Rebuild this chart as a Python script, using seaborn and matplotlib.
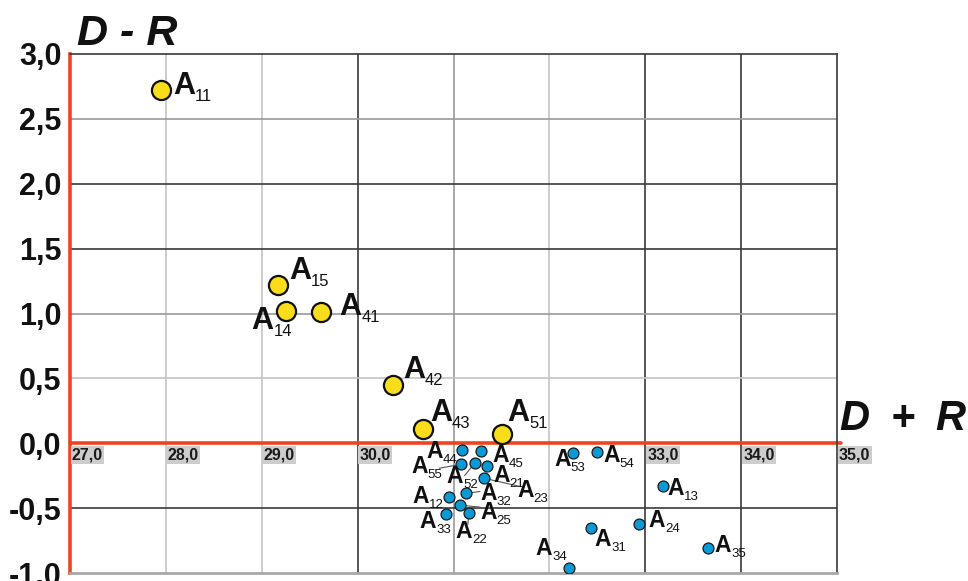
import matplotlib
matplotlib.use("Agg")
import matplotlib.pyplot as plt
import pandas as pd
import seaborn as sns
from matplotlib.ticker import FixedLocator, FuncFormatter

# Alternatives A_ij placed on the (D + R, D - R) plane
names = ["11", "15", "14", "41", "42", "43", "51",
         "44", "45", "55", "52", "21", "23", "32", "12", "25", "22", "33",
         "53", "54", "13", "31", "24", "35", "34"]
d_plus_r = [27.95, 29.17, 29.25, 29.62, 30.37, 30.68, 31.51,
            31.09, 31.29, 31.08, 31.22, 31.35, 31.32, 31.13, 30.95, 31.07, 31.16, 30.92,
            32.25, 32.50, 33.18, 32.43, 32.94, 33.65, 32.20]
d_minus_r = [2.72, 1.22, 1.02, 1.01, 0.45, 0.11, 0.075,
             -0.054, -0.059, -0.162, -0.156, -0.175, -0.27, -0.387, -0.418, -0.477, -0.54, -0.546,
             -0.072, -0.067, -0.33, -0.65, -0.62, -0.805, -0.96]
group = ["cause"] * 7 + ["effect"] * 18

x_ticks = [27.0, 28.0, 29.0, 30.0, 31.0, 32.0, 33.0, 34.0, 35.0]
x_tick_labels = ["27,0", "28,0", "29,0", "30,0", "", "", "33,0", "34,0", "35,0"]
y_ticks = [-1.0, -0.5, 0.0, 0.5, 1.0, 1.5, 2.0, 2.5, 3.0]

df = pd.DataFrame({"name": names, "dpr": d_plus_r, "dmr": d_minus_r, "group": group})

# ---- styling -------------------------------------------------------------
sns.set_theme(style="white")
plt.rcParams["font.family"] = ["Liberation Sans", "DejaVu Sans"]

YELLOW = "#f9dc1a"
BLUE = "#0a9ad6"
RED = "#ee4420"
DARK = "#3a3a3a"
MID = "#9a9a9a"
LIGHT = "#c4c4c4"

# label offsets (pixels) from each marker to the left/baseline of its "A"
label_offset = {
    "11": (12, -4), "15": (11, 6), "14": (-34, -18), "41": (18, -3),
    "42": (10, 7), "43": (7, 8), "51": (5, 13),
    "44": (-36, -8), "45": (11, -11), "55": (-50, -9), "52": (-28, -20),
    "21": (6, -16), "23": (33, -19), "32": (14, -7), "12": (-36, -6),
    "25": (20, -14), "22": (-13, -25), "33": (-26, -14),
    "53": (-19, -13), "54": (6, -10), "13": (5, -9), "31": (4, -18),
    "24": (9, -3), "35": (7, -4), "34": (-33, 13),
}
# thin leader lines from crowded markers to their labels (pixel offsets)
leader_end = {"55": (-22, -4), "52": (-10, -12), "23": (35, -8),
              "32": (14, 2), "25": (20, -2), "22": (-1, -11)}

# per-line grid colours
x_grid = {28.0: LIGHT, 29.0: LIGHT, 30.0: DARK, 31.0: MID, 32.0: LIGHT,
          33.0: DARK, 34.0: DARK}
y_grid = {2.5: MID, 2.0: DARK, 1.5: DARK, 1.0: MID, 0.5: LIGHT, -0.5: DARK}

fig = plt.figure(figsize=(9.68, 5.81), dpi=100)
fig.patch.set_facecolor("white")
ax = fig.add_axes([70 / 968, 8 / 581, (837 - 70) / 968, (573 - 54) / 581])

ax.set_xlim(27.0, 35.0)
ax.set_ylim(-1.0, 3.0)

for xv, c in x_grid.items():
    ax.axvline(xv, color=c, lw=1.2, zorder=1)
for yv, c in y_grid.items():
    ax.axhline(yv, color=c, lw=1.2, zorder=1)
ax.axhline(0.0, color=RED, lw=2.6, zorder=2, clip_on=False,
           xmin=0, xmax=1.005)

# leader lines under the markers
for n, (ex, ey) in leader_end.items():
    r = df[df.name == n].iloc[0]
    ax.annotate("", xy=(r.dpr, r.dmr), xytext=(ex, ey), textcoords="offset pixels",
                arrowprops=dict(arrowstyle="-", lw=0.8, color="#555555",
                                shrinkA=0, shrinkB=0), zorder=3)

cause = df[df.group == "cause"]
effect = df[df.group == "effect"]
sns.scatterplot(data=cause, x="dpr", y="dmr", s=190, color=YELLOW,
                edgecolor="#111111", linewidth=1.6, ax=ax, zorder=5, legend=False)
sns.scatterplot(data=effect, x="dpr", y="dmr", s=62, color=BLUE,
                edgecolor="#1a1a1a", linewidth=0.9, ax=ax, zorder=5, legend=False)

# point labels: big "A" followed by a small subscript index
for _, r in df.iterrows():
    big = r.group == "cause"
    fs_a, fs_s = (22, 12) if big else (16.5, 9.5)
    dx, dy = label_offset[r["name"]]
    t = ax.annotate("A", xy=(r.dpr, r.dmr), xytext=(dx, dy),
                    textcoords="offset pixels", ha="left", va="baseline",
                    fontsize=fs_a, fontweight="bold", color="#111111", zorder=6)
    ax.annotate(r["name"], xy=(1.0, 0.0), xycoords=t, xytext=(0.0, 0),
                textcoords="offset pixels", ha="left", va="baseline",
                fontsize=fs_s, color="#111111", zorder=6)

# axes frame
for side in ("top", "right"):
    ax.spines[side].set_color(DARK)
    ax.spines[side].set_linewidth(1.2)
ax.spines["left"].set_color(RED)
ax.spines["left"].set_linewidth(2.6)
ax.spines["bottom"].set_color("#a8a8a8")
ax.spines["bottom"].set_linewidth(2.0)

ax.set_xlabel("")
ax.set_ylabel("")
ax.xaxis.set_major_locator(FixedLocator(x_ticks))
ax.set_xticklabels([])
ax.tick_params(axis="x", length=0)
ax.yaxis.set_major_locator(FixedLocator(y_ticks))
ax.yaxis.set_major_formatter(FuncFormatter(lambda v, p: f"{v:.1f}".replace(".", ",")))
ax.tick_params(axis="y", length=0, pad=6)
for lab in ax.get_yticklabels():
    lab.set_fontsize(22)
    lab.set_fontweight("bold")
    lab.set_color("#111111")

# x values written just under the zero line, on grey chips
for xv, txt in zip(x_ticks, x_tick_labels):
    if not txt:
        continue
    ax.annotate(txt, xy=(xv, 0.0), xytext=(2, -4),
                textcoords="offset pixels", ha="left", va="top",
                fontsize=11.5, fontweight="bold", color="#1a1a1a", zorder=4,
                annotation_clip=False,
                bbox=dict(boxstyle="square,pad=0.08", fc="#cdcdcd", ec="none"))

# axis names
fig.text(77 / 968, 1 - 45 / 581, "D - R", fontsize=31, fontweight="bold",
         fontstyle="italic", ha="left", va="baseline", color="#111111")
fig.text(840 / 968, 1 - 430 / 581, "D\u2002+\u2002R", fontsize=30, fontweight="bold",
         fontstyle="italic", ha="left", va="baseline", color="#111111")

fig.savefig("out.png", dpi=100, facecolor="white")
